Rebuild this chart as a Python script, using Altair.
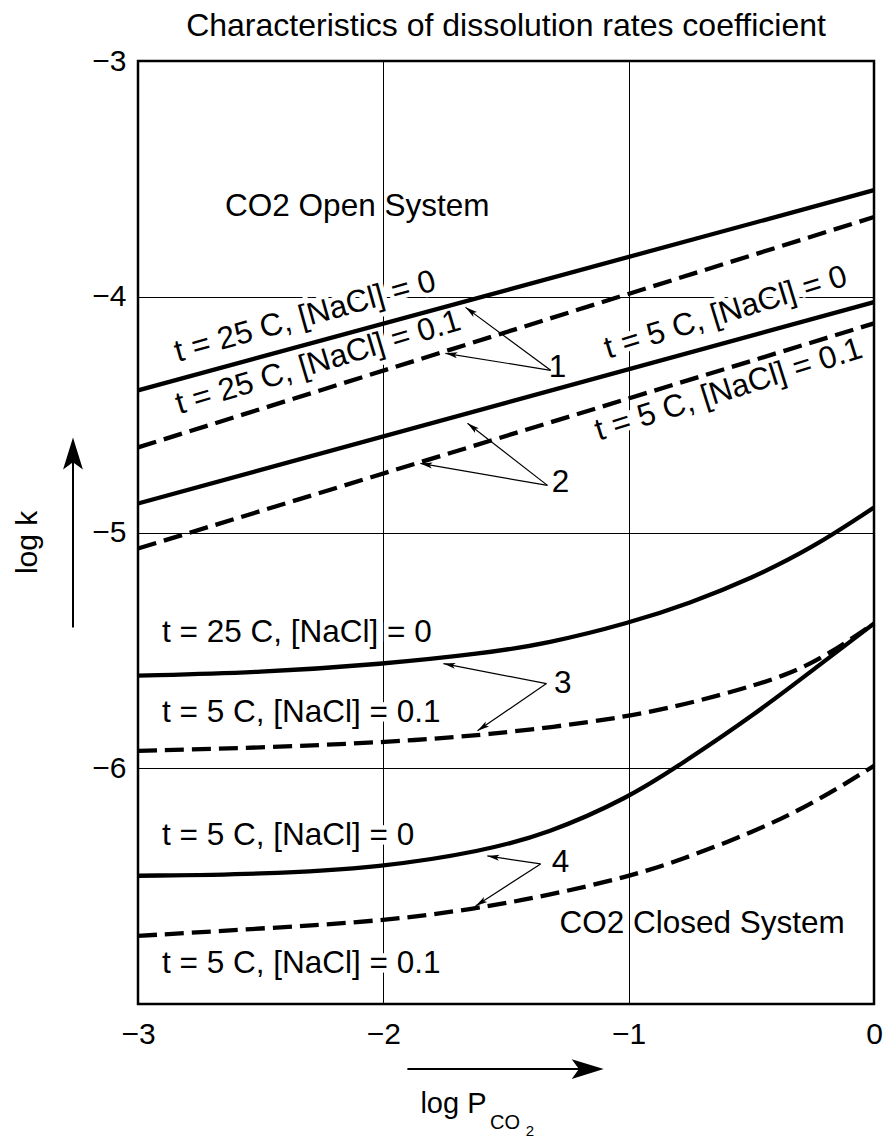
import math
import altair as alt
import pandas as pd

FONT = "Liberation Sans"
W, H = 736, 943
X_DOM = [-3, 0]
Y_DOM = [-7, -3]
KX = W / (X_DOM[1] - X_DOM[0])
KY = H / (Y_DOM[1] - Y_DOM[0])

# ---- Open system (straight lines) ----
open_x = [-3.0, 0.0]
open_25_0 = [-4.397, -3.548]
open_25_01 = [-4.639, -3.662]
open_5_0 = [-4.877, -4.023]
open_5_01 = [-5.068, -4.113]

# ---- Closed system ----
cl_25_0_x = [-3.0, -2.5, -2.0, -1.6, -1.33, -1.0, -0.75, -0.5, -0.25, 0.0]
cl_25_0_y = [-5.607, -5.594, -5.558, -5.514, -5.471, -5.385, -5.30, -5.195, -5.065, -4.894]
cl_5_01a_x = [-3.0, -2.5, -2.0, -1.6, -1.0, -0.62, -0.35, -0.19, 0.0]
cl_5_01a_y = [-5.926, -5.913, -5.89, -5.862, -5.787, -5.69, -5.605, -5.52, -5.386]
cl_5_0_x = [-3.0, -2.5, -2.0, -1.6, -1.33, -1.0, -0.79, -0.49, -0.22, 0.0]
cl_5_0_y = [-6.456, -6.450, -6.420, -6.352, -6.278, -6.125, -5.985, -5.775, -5.56, -5.386]
cl_5_01b_x = [-3.0, -2.5, -2.0, -1.63, -1.33, -1.0, -0.79, -0.49, -0.25, 0.0]
cl_5_01b_y = [-6.711, -6.68, -6.648, -6.597, -6.54, -6.46, -6.39, -6.27, -6.151, -5.99]

# ---- Labels ----
rot_text = ["t = 25 C, [NaCl] = 0", "t = 25 C, [NaCl] = 0.1",
            "t = 5 C, [NaCl] = 0", "t = 5 C, [NaCl] = 0.1"]
rot_x = [-2.318, -2.265, -0.604, -0.592]
rot_y = [-4.087, -4.282, -4.070, -4.397]
rot_angle = [344.5, 343.3, 343.0, 342.5]

left_text = ["t = 25 C, [NaCl] = 0", "t = 5 C, [NaCl] = 0.1",
             "t = 5 C, [NaCl] = 0", "t = 5 C, [NaCl] = 0.1"]
left_x = [-2.902, -2.902, -2.902, -2.902]
left_y = [-5.425, -5.764, -6.287, -6.830]

sys_text = ["CO2 Open System", "CO2 Closed System"]
sys_x = [-2.645, -1.282]
sys_y = [-3.620, -6.660]

num_text = ["1", "2", "3", "4"]
num_x = [-1.290, -1.278, -1.269, -1.278]
num_y = [-4.304, -4.792, -5.641, -6.401]

# ---- Pointer arrows (start -> head) ----
arr_sx = [-1.318, -1.318, -1.331, -1.331, -1.335, -1.335, -1.359, -1.359]
arr_sy = [-4.312, -4.312, -4.800, -4.800, -5.641, -5.641, -6.406, -6.406]
arr_hx = [-1.665, -1.747, -1.657, -1.849, -1.755, -1.616, -1.576, -1.624]
arr_hy = [-4.045, -4.240, -4.537, -4.707, -5.556, -5.841, -6.372, -6.584]

# ---- Axis direction arrows ----
yarrow_x = [-3.265, -3.265]
yarrow_y = [-5.403, -4.665]
xarrow_x = [-1.902, -1.167]
xarrow_y = [-7.276, -7.276]

# ---- Axis titles ----
ytitle = "log k"
ytitle_x, ytitle_y = -3.449, -5.042
xt_text = ["log  P", "CO", "2"]
xt_x = [-1.849, -1.565, -1.420]
xt_y = [-7.463, -7.532, -7.562]
xt_size = [29, 20, 15]

TITLE = "Characteristics of dissolution rates coefficient"

# ----------------------------------------------------------------
rows = []
def add(name, xs, ys, dashed):
    for a, b in zip(xs, ys):
        rows.append(dict(series=name, x=a, y=b, dashed=dashed))

add("o25_0", open_x, open_25_0, False)
add("o25_01", open_x, open_25_01, True)
add("o5_0", open_x, open_5_0, False)
add("o5_01", open_x, open_5_01, True)
add("c25_0", cl_25_0_x, cl_25_0_y, False)
add("c5_01a", cl_5_01a_x, cl_5_01a_y, True)
add("c5_0", cl_5_0_x, cl_5_0_y, False)
add("c5_01b", cl_5_01b_x, cl_5_01b_y, True)
lines_df = pd.DataFrame(rows)

LBL = "datum.value == 0 ? '0' : '\u2212' + abs(datum.value)"
xaxis = alt.Axis(values=[-3, -2, -1, 0], grid=True, title=None, labelPadding=15,
                 labelFlush=False,
                 labelExpr=LBL, labelFont=FONT, labelFontSize=30, labelColor="black",
                 gridColor="black", gridWidth=1, gridOpacity=1, ticks=False, domain=False)
yaxis = alt.Axis(values=[-3, -4, -5, -6], grid=True, title=None, labelPadding=12,
                 labelFlush=False,
                 labelExpr=LBL, labelFont=FONT, labelFontSize=30, labelColor="black",
                 gridColor="black", gridWidth=1, gridOpacity=1, ticks=False, domain=False)

def X(field="x"):
    return alt.X(f"{field}:Q", scale=alt.Scale(domain=X_DOM, nice=False, zero=False), axis=xaxis)

def Y(field="y"):
    return alt.Y(f"{field}:Q", scale=alt.Scale(domain=Y_DOM, nice=False, zero=False), axis=yaxis)

solid = alt.Chart(lines_df).transform_filter("!datum.dashed").mark_line(
    color="black", strokeWidth=4.3, interpolate="basis"
).encode(x=X(), y=Y(), detail="series:N")

dashed = alt.Chart(lines_df).transform_filter("datum.dashed").mark_line(
    color="black", strokeWidth=4.3, interpolate="basis", strokeDash=[19, 8]
).encode(x=X(), y=Y(), detail="series:N")

rot_df = pd.DataFrame(dict(text=rot_text, x=rot_x, y=rot_y, angle=rot_angle))
left_df = pd.DataFrame(dict(text=left_text, x=left_x, y=left_y))
sys_df = pd.DataFrame(dict(text=sys_text, x=sys_x, y=sys_y))
num_df = pd.DataFrame(dict(text=num_text, x=num_x, y=num_y))

FS = 31.5

rot_halo = alt.Chart(rot_df).mark_text(
    font=FONT, fontSize=FS, align="center", baseline="middle",
    color="white", stroke="white", strokeWidth=9
).encode(x=X(), y=Y(), text="text:N", angle=alt.Angle("angle:Q", scale=None))
left_halo = alt.Chart(left_df).mark_text(
    font=FONT, fontSize=FS, align="left", baseline="middle",
    color="white", stroke="white", strokeWidth=9
).encode(x=X(), y=Y(), text="text:N")

rot_lbl = alt.Chart(rot_df).mark_text(
    font=FONT, fontSize=FS, align="center", baseline="middle", color="black"
).encode(x=X(), y=Y(), text="text:N", angle=alt.Angle("angle:Q", scale=None))
left_lbl = alt.Chart(left_df).mark_text(
    font=FONT, fontSize=FS, align="left", baseline="middle", color="black"
).encode(x=X(), y=Y(), text="text:N")
sys_lbl = alt.Chart(sys_df).mark_text(
    font=FONT, fontSize=FS, align="left", baseline="middle", color="black"
).encode(x=X(), y=Y(), text="text:N")
num_lbl = alt.Chart(num_df).mark_text(
    font=FONT, fontSize=FS, align="center", baseline="middle", color="black"
).encode(x=X(), y=Y(), text="text:N")

# pointer arrows
HEAD_LEN = 12.0
arr_rows = []
head_rows = []
for sx, sy, hx, hy in zip(arr_sx, arr_sy, arr_hx, arr_hy):
    dx = (hx - sx) * KX
    dy = -(hy - sy) * KY
    L = math.hypot(dx, dy)
    ux, uy = dx / L, dy / L
    arr_rows.append(dict(x=sx, y=sy, x2=hx, y2=hy))
    cx = hx - (HEAD_LEN / 2) * ux / KX
    cy = hy + (HEAD_LEN / 2) * uy / KY
    ang = math.degrees(math.atan2(ux, -uy)) % 360
    head_rows.append(dict(x=cx, y=cy, angle=ang))
arr_df = pd.DataFrame(arr_rows)
head_df = pd.DataFrame(head_rows)

arr_rule = alt.Chart(arr_df).mark_rule(color="black", strokeWidth=1.2).encode(
    x=X(), y=Y(), x2="x2:Q", y2="y2:Q")
arr_head = alt.Chart(head_df).mark_point(
    shape="M0,-1L0.5,1L0,0.55L-0.5,1Z", filled=True, color="black", opacity=1,
    size=HEAD_LEN ** 2, strokeWidth=0
).encode(x=X(), y=Y(), angle=alt.Angle("angle:Q", scale=None))

# axis direction arrows
ax_df = pd.DataFrame([
    dict(x=yarrow_x[0], y=yarrow_y[0], x2=yarrow_x[1], y2=yarrow_y[1]),
    dict(x=xarrow_x[0], y=xarrow_y[0], x2=xarrow_x[1], y2=xarrow_y[1]),
])
axh_df = pd.DataFrame([
    dict(x=yarrow_x[1], y=yarrow_y[1], angle=0),
    dict(x=xarrow_x[1], y=xarrow_y[1], angle=90),
])
ax_rule = alt.Chart(ax_df).mark_rule(color="black", strokeWidth=2).encode(
    x=X(), y=Y(), x2="x2:Q", y2="y2:Q")
ax_head = alt.Chart(axh_df).mark_point(
    shape="M0,-1L0.62,1L0,0.55L-0.62,1Z", filled=True, color="black", opacity=1,
    size=32 ** 2, strokeWidth=0
).encode(x=X(), y=Y(), angle=alt.Angle("angle:Q", scale=None))

# axis titles as text
yt_df = pd.DataFrame([dict(text=ytitle, x=ytitle_x, y=ytitle_y)])
yt = alt.Chart(yt_df).mark_text(
    font=FONT, fontSize=30, align="center", baseline="middle", angle=270, color="black"
).encode(x=X(), y=Y(), text="text:N")
xt_df = pd.DataFrame(dict(text=xt_text, x=xt_x, y=xt_y, fs=xt_size))
xt = alt.Chart(xt_df).mark_text(
    font=FONT, align="left", baseline="alphabetic", color="black"
).encode(x=X(), y=Y(), text="text:N", size=alt.Size("fs:Q", scale=None))

chart = alt.layer(
    rot_halo, left_halo, solid, dashed, arr_rule, arr_head,
    rot_lbl, left_lbl, sys_lbl, num_lbl, ax_rule, ax_head, yt, xt
).properties(
    width=W, height=H,
    background="white",
    padding={"left": 138, "top": 61, "right": 14, "bottom": 135},
    autosize=alt.AutoSizeParams(type="none"),
    title=alt.TitleParams(TITLE, font=FONT, fontSize=32, fontWeight="normal",
                          color="black", anchor="middle", offset=3),
).configure_view(
    stroke="black", strokeWidth=2.5
)

chart.save("out.html", embed_options={"renderer": "svg", "actions": False})
